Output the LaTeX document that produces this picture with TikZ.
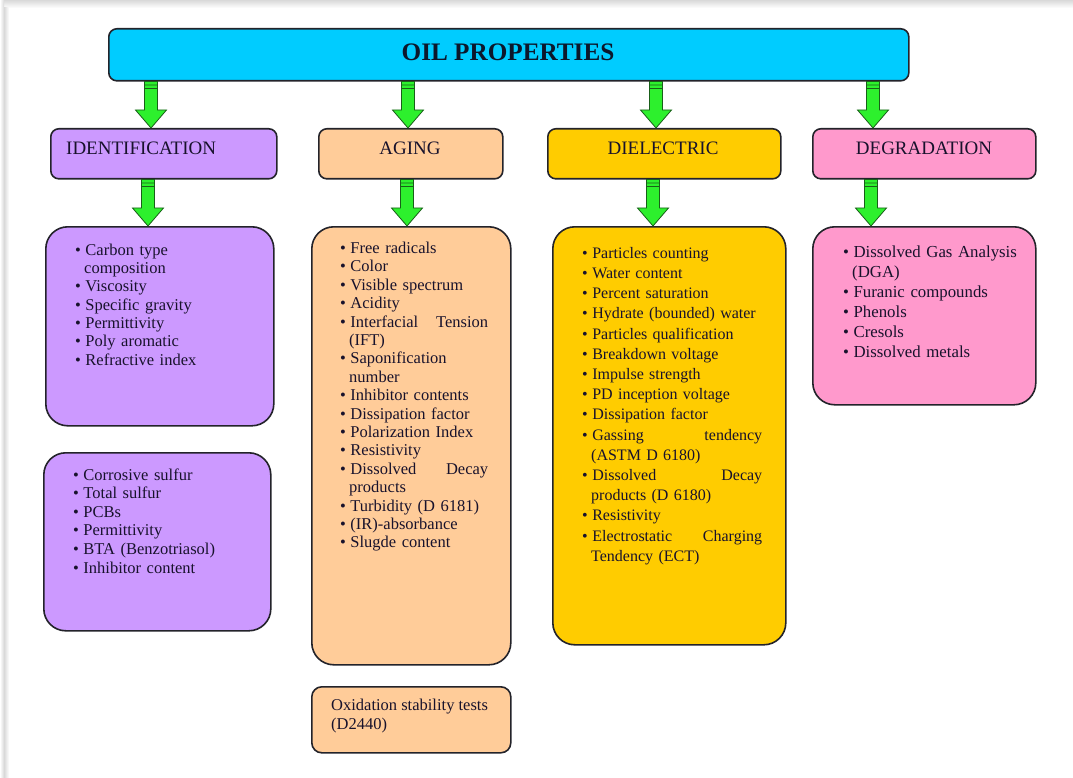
\documentclass[tikz,border=0pt]{standalone}
\usepackage{fontspec}
\setmainfont{Liberation Serif}
\usetikzlibrary{calc}
\definecolor{cyanbox}{RGB}{0,204,255}
\definecolor{purplebox}{RGB}{204,153,255}
\definecolor{peachbox}{RGB}{255,204,153}
\definecolor{goldbox}{RGB}{255,204,0}
\definecolor{pinkbox}{RGB}{255,153,204}
\definecolor{arrgreen}{RGB}{45,240,45}
\definecolor{arrdark}{RGB}{25,95,25}
\definecolor{ink}{RGB}{24,18,44}
\definecolor{titleink}{RGB}{12,24,44}
\definecolor{edgecol}{RGB}{35,35,42}
\newenvironment{blist}{\begin{list}{\textbullet}{\setlength{\leftmargin}{9pt}\setlength{\labelsep}{4.5pt}\setlength{\labelwidth}{4.5pt}\setlength{\itemsep}{0pt}\setlength{\parsep}{0pt}\setlength{\topsep}{0pt}\setlength{\partopsep}{0pt}\setlength{\itemindent}{0pt}\setlength{\rightmargin}{0pt}}\raggedright\hyphenpenalty=10000}{\end{list}}
\newcommand\greenarrow[2]{%
  \draw[arrowbody] let \p1=(#1), \p2=(#2) in
  (\x1-6.5pt,\y1) -- (\x1+6.5pt,\y1) -- (\x1+6.5pt,\y2+18pt) -- (\x1+15.5pt,\y2+18pt)
  -- (\x1,\y2) -- (\x1-15.5pt,\y2+18pt) -- (\x1-6.5pt,\y2+18pt) -- cycle
  (\x1-6.5pt,\y1-3.5pt) -- (\x1+6.5pt,\y1-3.5pt)
  (\x1-6.5pt,\y1-7pt) -- (\x1+6.5pt,\y1-7pt);}
\tikzset{
  catbox/.style={draw=edgecol, line width=1.6pt, rounded corners=8pt, inner sep=0pt, anchor=north west},
  listbox/.style={draw=edgecol, line width=1.6pt, rounded corners=22pt, inner sep=0pt, anchor=north west},
  titletext/.style={text=titleink, inner sep=0pt, anchor=base, font=\fontsize{25.2}{28}\selectfont\bfseries},
  cattext/.style={text=ink, inner sep=0pt, font=\fontsize{19}{22}\selectfont},
  listtext/.style={text=ink, inner sep=0pt, anchor=base west},
  arrowbody/.style={draw=arrdark, fill=arrgreen, line width=0.8pt, line join=miter}
}
\begin{document}
\begin{tikzpicture}[x=1pt,y=-1pt]
\useasboundingbox (0,0) rectangle (1073,778);
\fill[white] (0,0) rectangle (1073,778);
\shade[top color=gray!30, bottom color=white] (0,0) rectangle (1073,8);
\shade[left color=white, right color=gray!30] (0,0) rectangle (4,778);
\shade[left color=gray!30, right color=white] (4,8) rectangle (9,778);

% top box
\node[catbox, fill=cyanbox, minimum width=800pt, minimum height=52pt] (top) at (108,28) {};
\node[titletext] (toptxt) at (508,61) {OIL PROPERTIES};

% category boxes
\node[catbox, fill=purplebox, minimum width=226pt, minimum height=50pt] (ident) at (50,128) {};
\node[catbox, fill=peachbox, minimum width=184pt, minimum height=50pt] (aging) at (318,128) {};
\node[catbox, fill=goldbox, minimum width=233pt, minimum height=50pt] (diel) at (547,128) {};
\node[catbox, fill=pinkbox, minimum width=223pt, minimum height=50pt] (degr) at (812,128) {};
\node[cattext, anchor=base west] (identT) at (66,155) {IDENTIFICATION};
\node[cattext, anchor=base] (agingT) at (410,155) {AGING};
\node[cattext, anchor=base] (dielT) at (663,155) {DIELECTRIC};
\node[cattext, anchor=base] (degrT) at (924,155) {DEGRADATION};

% list boxes
\node[listbox, fill=purplebox, minimum width=228pt, minimum height=199pt] (identL) at (45,226) {};
\node[listbox, fill=purplebox, minimum width=227pt, minimum height=178pt] (identM) at (43,452) {};
\node[listbox, fill=peachbox, minimum width=199pt, minimum height=438pt] (agingL) at (311,226) {};
\node[catbox, fill=peachbox, rounded corners=10pt, minimum width=199pt, minimum height=66pt] (oxid) at (311,686) {};
\node[listbox, fill=goldbox, minimum width=233pt, minimum height=418pt] (dielL) at (552,226) {};
\node[listbox, fill=pinkbox, minimum width=223pt, minimum height=178pt] (degrL) at (812,226) {};

% arrows
\coordinate (ax1) at (151,0);
\coordinate (ax2) at (408,0);
\coordinate (ax3) at (656,0);
\coordinate (ax4) at (873,0);
\coordinate (bx1) at (148,0);
\coordinate (bx2) at (407,0);
\coordinate (bx3) at (653,0);
\coordinate (bx4) at (871,0);
\greenarrow{top.south -| ax1}{ident.north -| ax1}
\greenarrow{top.south -| ax2}{aging.north -| ax2}
\greenarrow{top.south -| ax3}{diel.north -| ax3}
\greenarrow{top.south -| ax4}{degr.north -| ax4}
\greenarrow{ident.south -| bx1}{identL.north -| bx1}
\greenarrow{aging.south -| bx2}{agingL.north -| bx2}
\greenarrow{diel.south -| bx3}{dielL.north -| bx3}
\greenarrow{degr.south -| bx4}{degrL.north -| bx4}

% list texts
\node[listtext, text width=165pt, font=\fontsize{16.5}{18.3}\selectfont] (identLT) at (75,237) {%
\begin{blist}
\item Carbon type\newline composition
\item Viscosity
\item Specific gravity
\item Permittivity
\item Poly aromatic
\item Refractive index
\end{blist}};

\node[listtext, text width=175pt, font=\fontsize{16.5}{18.6}\selectfont] (identMT) at (73,461.5) {%
\begin{blist}
\item Corrosive sulfur
\item Total sulfur
\item PCBs
\item Permittivity
\item BTA (Benzotriasol)
\item Inhibitor content
\end{blist}};

\node[listtext, text width=148pt, font=\fontsize{16.5}{18.4}\selectfont] (agingLT) at (340,235) {%
\begin{blist}
\item Free radicals
\item Color
\item Visible spectrum
\item Acidity
\item Interfacial\hfill Tension\newline (IFT)
\item Saponification\newline number
\item Inhibitor contents
\item Dissipation factor
\item Polarization Index
\item Resistivity
\item Dissolved\hfill Decay\newline products
\item Turbidity (D 6181)
\item (IR)-absorbance
\item Slugde content
\end{blist}};

\node[listtext, text width=180pt, font=\fontsize{16}{20.2}\selectfont] (dielLT) at (582,238) {%
\begin{blist}
\item Particles counting
\item Water content
\item Percent saturation
\item Hydrate (bounded) water
\item Particles qualification
\item Breakdown voltage
\item Impulse strength
\item PD inception voltage
\item Dissipation factor
\item Gassing\hfill tendency\newline (ASTM D 6180)
\item Dissolved\hfill Decay\newline products (D 6180)
\item Resistivity
\item Electrostatic\hfill Charging\newline Tendency (ECT)
\end{blist}};

\node[listtext, text width=180pt, font=\fontsize{16.8}{20}\selectfont] (degrLT) at (843,237) {%
\begin{blist}
\item Dissolved Gas Analysis\newline (DGA)
\item Furanic compounds
\item Phenols
\item Cresols
\item Dissolved metals
\end{blist}};

\node[listtext, align=left, font=\fontsize{16.5}{18.3}\selectfont] (oxidT) at (331,729) {Oxidation stability tests\\(D2440)};
\end{tikzpicture}
\end{document}
